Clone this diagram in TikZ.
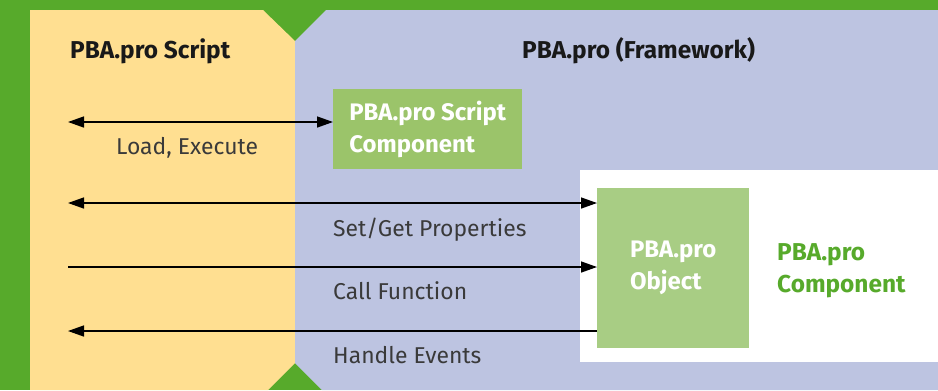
\documentclass[tikz,border=0pt]{standalone}
\usepackage{fontspec}
\setmainfont{Fira Sans}
\usetikzlibrary{arrows.meta}
\definecolor{pgreen}{HTML}{57AA2B}
\definecolor{pyellow}{HTML}{FFDF91}
\definecolor{pblue}{HTML}{BDC4E1}
\definecolor{scgreen}{HTML}{9BC46A}
\definecolor{obgreen}{HTML}{A8CD84}
\definecolor{labelgray}{HTML}{3A3A3A}
\tikzset{
  txt/.style={font=\fontsize{23}{31}\selectfont, text=labelgray, anchor=base west, inner sep=0pt},
  title/.style={font=\bfseries\fontsize{24.5}{31}\selectfont, text=black!90, anchor=base west, inner sep=0pt},
  boxtxt/.style={font=\bfseries\fontsize{24}{32}\selectfont, text=white, align=left},
  arr/.style={line width=1.4bp, draw=black, arrows={-Triangle[length=16bp,width=11bp]}},
  darr/.style={line width=1.4bp, draw=black, arrows={Triangle[length=16bp,width=11bp]-Triangle[length=16bp,width=11bp]}},
  larr/.style={line width=1.4bp, draw=black, arrows={Triangle[length=16bp,width=11bp]-}},
}
\begin{document}
\begin{tikzpicture}[x=1bp,y=-1bp]
\useasboundingbox (0,0) rectangle (938,390);
% background regions
\fill[pgreen] (0,0) rectangle (938,390);
\fill[pyellow] (30,10) -- (263,10) -- (295,41) -- (295,363) -- (268,390) -- (30,390) -- cycle;
\fill[pblue] (295,41) -- (326,10) -- (938,10) -- (938,390) -- (322,390) -- (295,363) -- cycle;
\fill[white] (580,170) rectangle (938,362);
% titles
\node[title] (t1) at (70,58) {PBA.pro Script};
\node[title] (t2) at (522,58) {PBA.pro (Framework)};
% boxes
\node[boxtxt, fill=scgreen, minimum width=189bp, minimum height=80bp, anchor=north west, inner sep=0pt] (scomp) at (333,89) {PBA.pro Script\\Component};
\node[boxtxt, fill=obgreen, minimum width=152bp, minimum height=160bp, anchor=north west, inner sep=0pt] (obj) at (597,188) {PBA.pro\\Object};
\node[font=\bfseries\fontsize{24.5}{32}\selectfont, text=pgreen, align=left, anchor=north west, inner sep=0pt] (comp) at (777,243) {PBA.pro\\Component};
% connectors
\coordinate (l1) at (68,122);
\coordinate (l2) at (68,203);
\coordinate (l3) at (68,267);
\coordinate (l4) at (68,331);
\draw[darr] (l1) -- (l1 -| scomp.west);
\draw[darr] (l2) -- (l2 -| obj.west);
\draw[arr] (l3) -- (l3 -| obj.west);
\draw[larr] (l4) -- (l4 -| obj.west);
% labels
\node[txt] (lb1) at (116,154) {Load, Execute};
\node[txt] (lb2) at (333,236) {Set/Get Properties};
\node[txt] (lb3) at (333,299) {Call Function};
\node[txt] (lb4) at (333,363) {Handle Events};
\end{tikzpicture}
\end{document}
